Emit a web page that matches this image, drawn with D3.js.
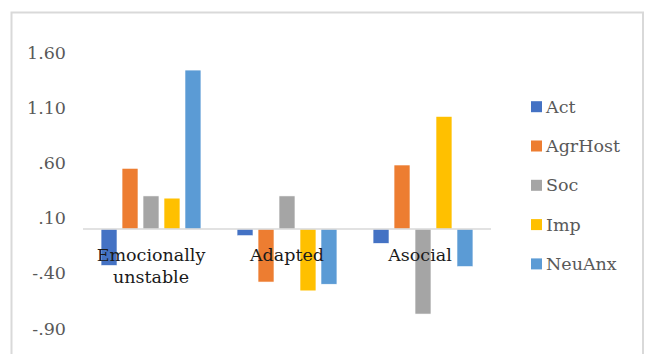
<!DOCTYPE html>
<html>
<head>
<meta charset="utf-8">
<script src="https://cdn.jsdelivr.net/npm/d3@7"></script>
<style>
  html, body { margin: 0; padding: 0; background: #fff; }
  svg { display: block; }
  text { font-family: "DejaVu Serif", serif; }
</style>
</head>
<body>
<svg id="chart" width="645" height="354"></svg>
<script>
// Profile groups and the five scale scores for each one
const categories = [["Emocionally", "unstable"], ["Adapted"], ["Asocial"]];
const seriesNames = ["Act", "AgrHost", "Soc", "Imp", "NeuAnx"];
const seriesColors = ["#4472C4", "#ED7D31", "#A5A5A5", "#FFC000", "#5B9BD5"];
const actValues = [-0.33, -0.06, -0.13];
const agrHostValues = [0.55, -0.48, 0.58];
const socValues = [0.30, 0.30, -0.77];
const impValues = [0.28, -0.56, 1.02];
const neuAnxValues = [1.44, -0.50, -0.34];
const tickValues = [1.6, 1.1, 0.6, 0.1, -0.4, -0.9];
const tickLabels = ["1.60", "1.10", ".60", ".10", "-.40", "-.90"];

const seriesValues = [actValues, agrHostValues, socValues, impValues, neuAnxValues];
const catKeys = categories.map(c => c.join(" "));

const svg = d3.select("#chart");

// outer chart frame
svg.append("rect")
  .attr("x", 11.5).attr("y", 12.5)
  .attr("width", 631.5).attr("height", 360)
  .attr("fill", "#fff")
  .attr("stroke", "#d9d9d9")
  .attr("stroke-width", 2);

const plot = { left: 83, right: 491 };

const y = d3.scaleLinear().domain([-0.9, 1.6]).range([328.4, 52.4]);
const x0 = d3.scaleBand().domain(catKeys).range([plot.left, plot.right]);
const x1 = d3.scaleBand().domain(seriesNames).range([0, x0.bandwidth()])
  .paddingInner(0.24).paddingOuter(0.86);

// value axis: labels only
const yAxis = d3.axisLeft(y)
  .tickValues(tickValues)
  .tickFormat((d, i) => tickLabels[i])
  .tickSize(0).tickPadding(0);
const yg = svg.append("g").attr("transform", "translate(66,0)").call(yAxis);
yg.select(".domain").remove();
yg.selectAll("text")
  .attr("fill", "#595959")
  .style("font-family", "'DejaVu Serif', serif")
  .style("font-size", "17.5px");

// bars
const groups = svg.append("g").selectAll("g")
  .data(catKeys)
  .join("g")
  .attr("transform", d => `translate(${x0(d)},0)`);

groups.selectAll("rect")
  .data((d, ci) => seriesNames.map((s, si) => ({ s, v: seriesValues[si][ci], c: seriesColors[si] })))
  .join("rect")
  .attr("x", d => x1(d.s))
  .attr("width", x1.bandwidth())
  .attr("y", d => y(Math.max(0, d.v)))
  .attr("height", d => Math.abs(y(d.v) - y(0)))
  .attr("fill", d => d.c)
  .attr("stroke", "#fff")
  .attr("stroke-width", 0.6);

// zero baseline
svg.append("line")
  .attr("x1", plot.left).attr("x2", plot.right)
  .attr("y1", y(0)).attr("y2", y(0))
  .attr("stroke", "#d9d9d9")
  .attr("stroke-width", 1.5);

// category labels, drawn over the bars
const catLabels = svg.append("g").selectAll("text")
  .data(categories)
  .join("text")
  .attr("x", (d, i) => x0(catKeys[i]) + x0.bandwidth() / 2 - (i === 2 ? 3 : 0))
  .attr("y", 261)
  .attr("text-anchor", "middle")
  .attr("fill", "#1a1a1a")
  .style("font-size", "17.5px");
catLabels.selectAll("tspan")
  .data(d => d)
  .join("tspan")
  .attr("x", function () { return d3.select(this.parentNode).attr("x"); })
  .attr("dy", (d, i) => i === 0 ? 0 : 22)
  .text(d => d);

// legend
const legend = svg.append("g").selectAll("g")
  .data(seriesNames)
  .join("g")
  .attr("transform", (d, i) => `translate(531,${106.7 + i * 39.3})`);
legend.append("rect")
  .attr("x", 0).attr("y", -5.5)
  .attr("width", 11).attr("height", 11)
  .attr("fill", (d, i) => seriesColors[i]);
legend.append("text")
  .attr("x", 15).attr("y", 6)
  .attr("fill", "#595959")
  .style("font-size", "17.5px")
  .text(d => d);
</script>
</body>
</html>
